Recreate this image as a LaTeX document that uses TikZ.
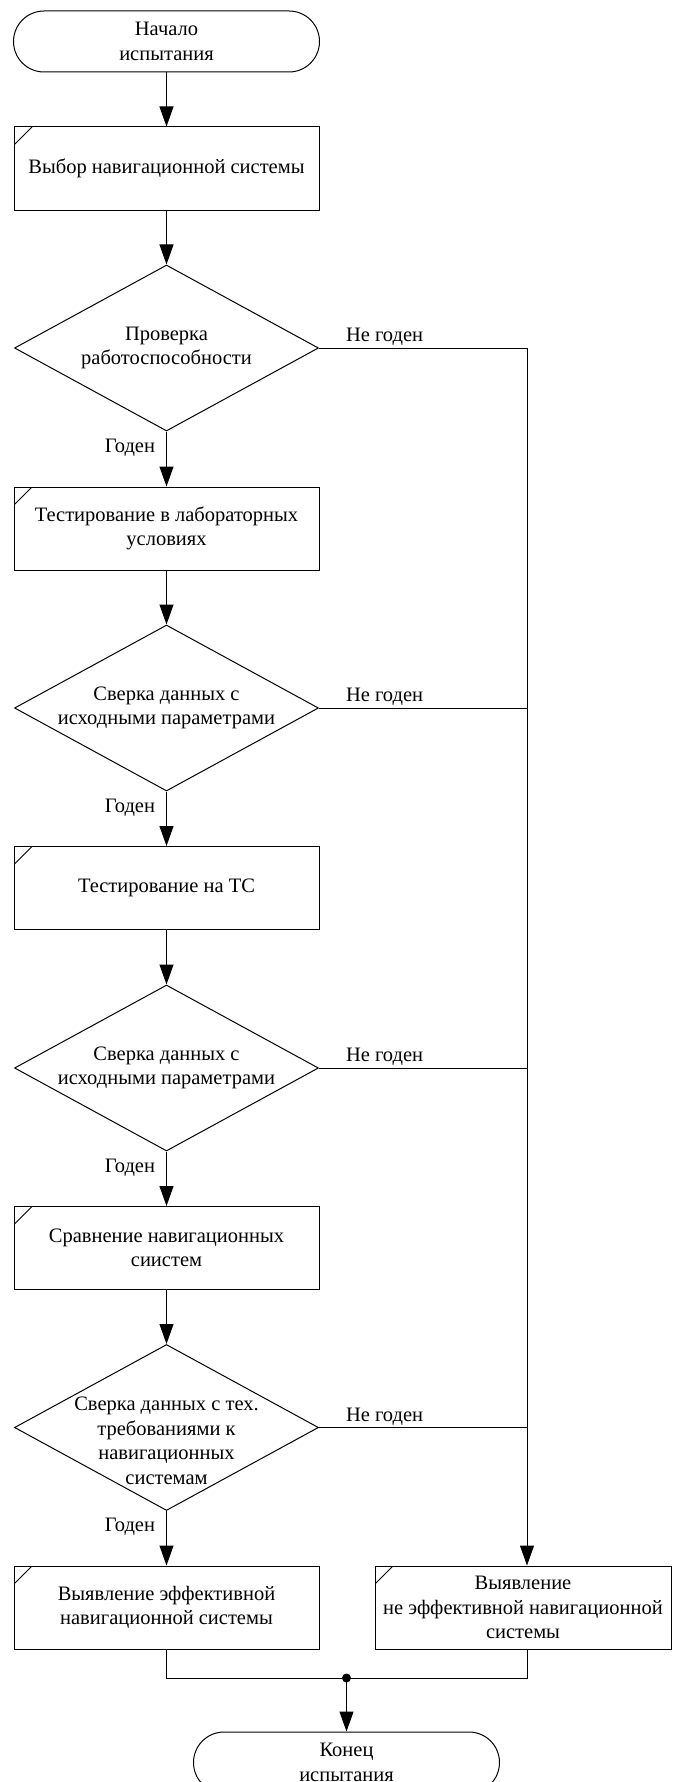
\documentclass[tikz,border=0pt]{standalone}
\usepackage{fontspec}
\setmainfont{Liberation Serif}
\usetikzlibrary{arrows.meta,shapes.geometric}
\begin{document}
\begin{tikzpicture}[x=1pt,y=-1pt, line width=1pt,
  every node/.style={font=\fontsize{20.5}{24.5}\selectfont},
  term/.style={draw, rectangle, rounded corners=30.5pt, minimum width=306pt, minimum height=61pt, inner sep=0pt, align=center},
  proc/.style={draw, rectangle, minimum width=305pt, minimum height=83pt, inner sep=0pt, align=center,
    path picture={\draw[line width=1pt] ([yshift=-18pt]path picture bounding box.north west) -- ([xshift=18pt]path picture bounding box.north west);}},
  dec/.style={draw, diamond, minimum width=304pt, minimum height=166pt, inner sep=0pt},
  dtext/.style={align=center, inner sep=0pt},
  arr/.style={-{Triangle[length=20pt,width=14pt]}},
  lbl/.style={inner sep=0pt},
  yes/.style={lbl, pos=0.29, left=11pt},
  no/.style={lbl, pos=0, anchor=base west, xshift=26.5pt, yshift=6.5pt},
]
\useasboundingbox (0,0) rectangle (672,1782);

\node[term] (start) at (166.5,41.5) {Начало\\испытания};
\node[proc] (p1) at (166.5,168.5) {Выбор навигационной системы};
\node[dec] (d1) at (166.5,348) {};
\node[dtext] (d1t) at (166.5,348) {Проверка\\работоспособности};
\node[proc] (p2) at (166.5,528.5) {Тестирование в лабораторных\\условиях};
\node[dec] (d2) at (166.5,708) {};
\node[dtext] (d2t) at (166.5,708) {Сверка данных с\\исходными параметрами};
\node[proc] (p3) at (166.5,888) {Тестирование на ТС};
\node[dec] (d3) at (166.5,1068) {};
\node[dtext] (d3t) at (166.5,1068) {Сверка данных с\\исходными параметрами};
\node[proc] (p4) at (166.5,1248) {Сравнение навигационных\\сиистем};
\node[dec] (d4) at (166.5,1427.5) {};
\node[dtext] (d4t) at (166.5,1441) {Сверка данных с тех.\\требованиями к\\навигационных\\системам};
\node[proc] (p5) at (166.5,1607.5) {Выявление эффективной\\навигационной системы};
\node[proc, minimum width=296pt] (p6) at (523,1607.5) {Выявление\\не эффективной навигационной\\системы};
\node[term] (end) at (346.5,1762.5) {Конец\\испытания};

\coordinate (r) at (527,348);
\coordinate (m) at (346.5,1678);

\draw[arr] (start) -- (p1);
\draw[arr] (p1) -- (d1);
\draw[arr] (d1) -- node[yes]{Годен} (p2);
\draw[arr] (p2) -- (d2);
\draw[arr] (d2) -- node[yes]{Годен} (p3);
\draw[arr] (p3) -- (d3);
\draw[arr] (d3) -- node[yes]{Годен} (p4);
\draw[arr] (p4) -- (d4);
\draw[arr] (d4) -- node[yes]{Годен} (p5);

\draw (d1.east) -- node[no]{Не годен} (r);
\draw (d2.east) -- node[no]{Не годен} (d2.east -| r);
\draw (d3.east) -- node[no]{Не годен} (d3.east -| r);
\draw (d4.east) -- node[no]{Не годен} (d4.east -| r);
\draw[arr] (r) -- (r |- p6.north);

\draw (p5.south) |- (m);
\draw (r |- p6.south) |- (m);
\fill (m) circle (4.5pt);
\draw[arr] (m) -- (m |- end.north);
\end{tikzpicture}
\end{document}
